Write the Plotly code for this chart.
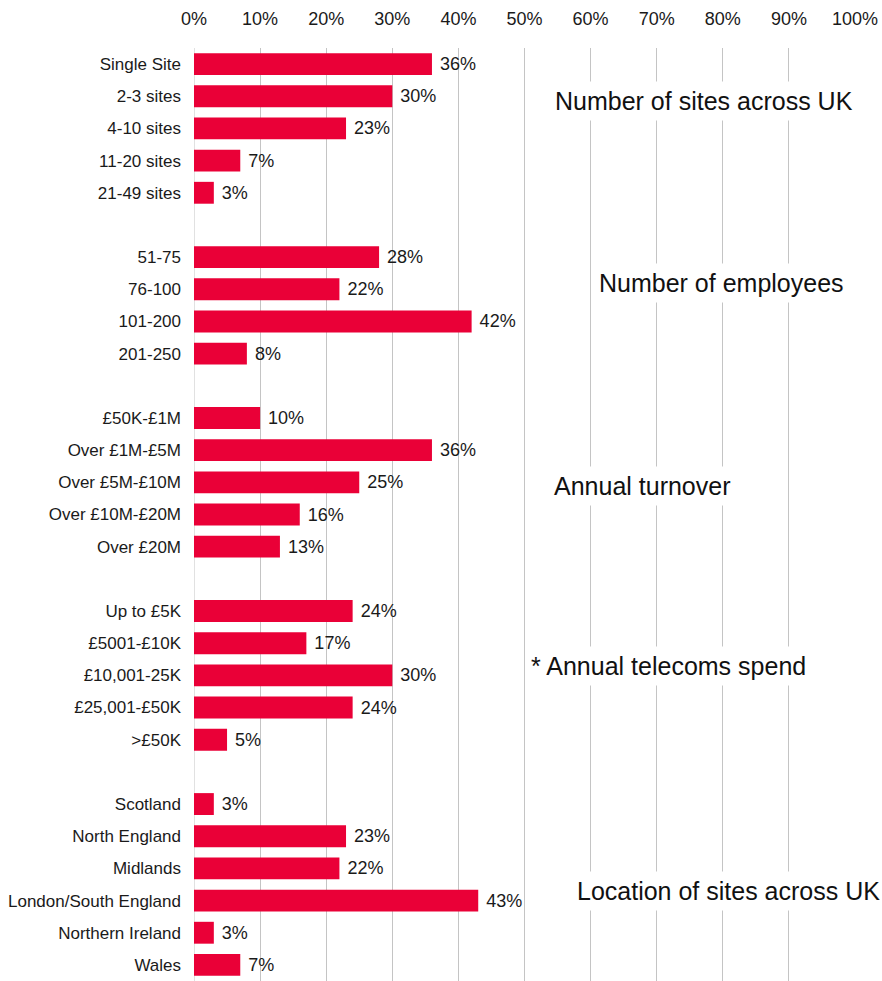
import plotly.graph_objects as go

# Survey profile: share of respondents per category, grouped into five blocks
sites_labels = ["Single Site", "2-3 sites", "4-10 sites", "11-20 sites", "21-49 sites"]
sites_values = [36, 30, 23, 7, 3]

employees_labels = ["51-75", "76-100", "101-200", "201-250"]
employees_values = [28, 22, 42, 8]

turnover_labels = ["£50K-£1M", "Over £1M-£5M", "Over £5M-£10M", "Over £10M-£20M", "Over £20M"]
turnover_values = [10, 36, 25, 16, 13]

spend_labels = ["Up to £5K", "£5001-£10K", "£10,001-25K", "£25,001-£50K", ">£50K"]
spend_values = [24, 17, 30, 24, 5]

location_labels = ["Scotland", "North England", "Midlands", "London/South England",
                   "Northern Ireland", "Wales"]
location_values = [3, 23, 22, 43, 3, 7]

group_titles = ["Number of sites across UK", "Number of employees", "Annual turnover",
                "* Annual telecoms spend", "Location of sites across UK"]
# where each block title sits: (x in %, y in row units)
title_pos = [(53.7, 1.15), (60.4, 6.8), (53.6, 13.1), (50.1, 18.7), (57.0, 25.7)]

tick_vals_x = list(range(0, 101, 10))
tick_text_x = [f"{v}%" for v in tick_vals_x]

groups = [
    (sites_labels, sites_values),
    (employees_labels, employees_values),
    (turnover_labels, turnover_values),
    (spend_labels, spend_values),
    (location_labels, location_values),
]

# lay the rows out with one empty slot between blocks
labels, values, rows = [], [], []
r = 0
for gl, gv in groups:
    for lab, val in zip(gl, gv):
        labels.append(lab)
        values.append(val)
        rows.append(r)
        r += 1
    r += 1
last_row = rows[-1]

FONT = "Liberation Sans, Arial, sans-serif"
RED = "#EA0037"

fig = go.Figure(
    go.Bar(
        x=values,
        y=rows,
        orientation="h",
        width=0.68,
        marker=dict(color=RED, line=dict(width=0)),
        text=[f" {v}%" for v in values],
        textposition="outside",
        textfont=dict(family=FONT, size=18, color="#1a1a1a"),
        cliponaxis=False,
        hoverinfo="skip",
    )
)

for title, (tx, ty) in zip(group_titles, title_pos):
    fig.add_annotation(
        x=tx, y=ty, xref="x", yref="y",
        text=title, showarrow=False,
        xanchor="left", yanchor="middle",
        font=dict(family=FONT, size=25, color="#111111"),
        bgcolor="white", borderpad=5,
    )

fig.update_layout(
    width=882, height=981,
    margin=dict(l=194, r=27, t=48, b=0),
    paper_bgcolor="white", plot_bgcolor="white",
    showlegend=False,
    font=dict(family=FONT, color="#1a1a1a"),
    xaxis=dict(
        side="top", range=[0, 100],
        tickvals=tick_vals_x, ticktext=tick_text_x,
        tickfont=dict(family=FONT, size=18, color="#1a1a1a"),
        showgrid=True, gridcolor="#c4c4c4", gridwidth=1,
        zeroline=False, showline=False, ticks="",
        ticklabelstandoff=18,
    ),
    yaxis=dict(
        range=[last_row + 0.5, -0.5],
        tickvals=rows, ticktext=labels,
        tickfont=dict(family=FONT, size=17, color="#1a1a1a"),
        showgrid=False, zeroline=False, showline=False, ticks="",
        ticklabelstandoff=12,
    ),
)

fig.add_vline(x=0, line=dict(color="#c4c4c4", width=1), layer="below")

fig.write_html("out.html")
